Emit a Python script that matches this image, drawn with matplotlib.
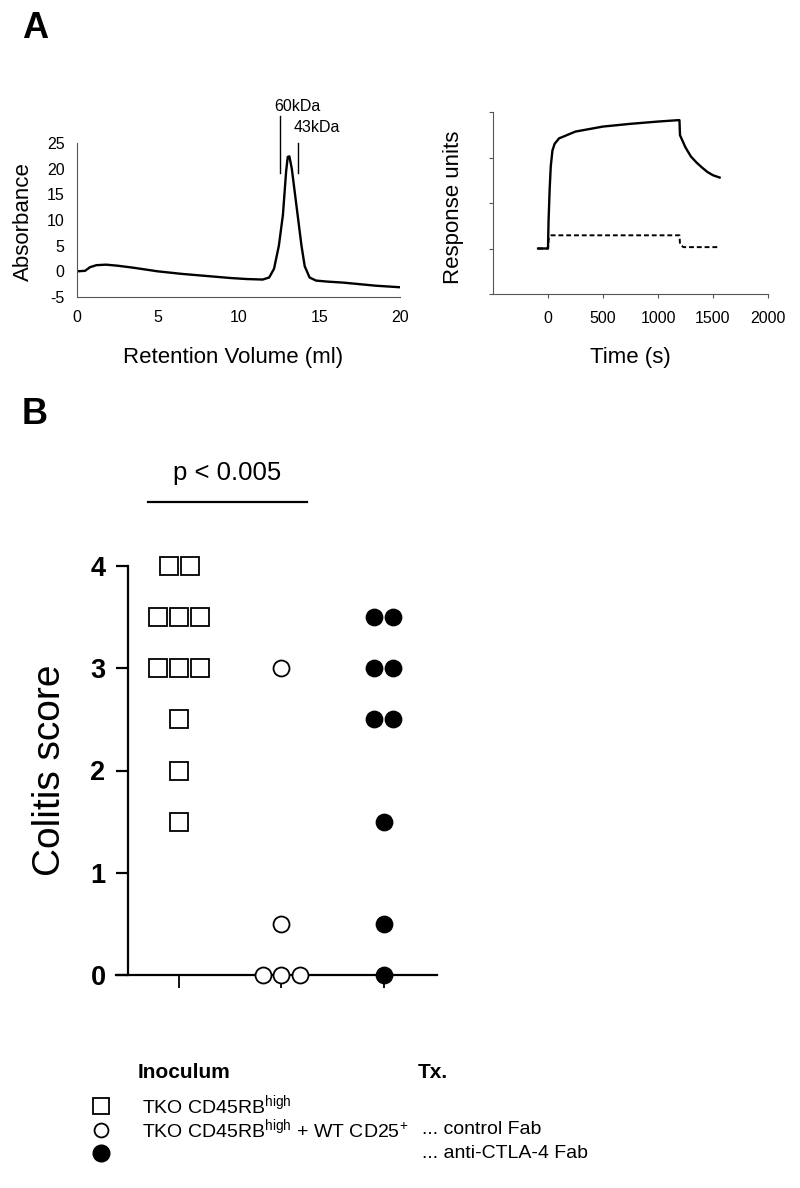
import numpy as np
import matplotlib
matplotlib.use("Agg")
import matplotlib.pyplot as plt
from matplotlib.lines import Line2D

plt.rcParams['font.family'] = ['Liberation Sans', 'DejaVu Sans']
plt.rcParams['mathtext.fontset'] = 'custom'
plt.rcParams['mathtext.rm'] = 'Liberation Sans'
plt.rcParams['axes.unicode_minus'] = False

# --- panel A, gel filtration trace ---
vol_ml = [0, 0.5, 0.8, 1.2, 1.8, 2.5, 3.5, 5, 6.5, 8, 9.5, 10.5, 11.5, 11.9,
          12.2, 12.5, 12.75, 12.95, 13.05, 13.15, 13.3, 13.5, 13.7, 13.9,
          14.1, 14.4, 14.8, 15.5, 16.5, 17.5, 18.5, 20]
absorbance = [0, 0.1, 0.8, 1.2, 1.3, 1.1, 0.7, 0.0, -0.5, -0.9, -1.3, -1.5,
              -1.6, -1.2, 0.5, 5, 11, 19.5, 22.3, 22.4, 20, 15, 10, 5, 1,
              -1.2, -1.8, -2.0, -2.2, -2.5, -2.8, -3.1]
markers_kda = ['60kDa', '43kDa']
marker_vol = [12.6, 13.7]

# --- panel A, surface plasmon resonance ---
t_solid = [-90, 0, 5, 15, 25, 40, 60, 100, 250, 500, 750, 1000, 1180, 1195,
           1200, 1250, 1300, 1350, 1400, 1450, 1500, 1560]
ru_solid = [1.0, 1.0, 1.6, 2.3, 2.8, 3.15, 3.3, 3.42, 3.57, 3.68, 3.74, 3.79,
            3.82, 3.82, 3.49, 3.22, 3.02, 2.89, 2.78, 2.68, 2.61, 2.56]
t_dash = [-90, 0, 5, 30, 1195, 1200, 1230, 1560]
ru_dash = [1.0, 1.0, 1.2, 1.29, 1.29, 1.1, 1.03, 1.03]

# --- panel B, colitis scores ---
sq_scores = [4, 4, 3.5, 3.5, 3.5, 3, 3, 3, 2.5, 2, 1.5]
open_scores = [3, 0.5, 0, 0, 0]
filled_scores = [3.5, 3.5, 3, 3, 2.5, 2.5, 1.5, 0.5, 0]
groups = [1, 2, 3]


def spread(scores, step):
    scores = np.array(scores, dtype=float)
    off = np.zeros_like(scores)
    for v in np.unique(scores):
        idx = np.where(scores == v)[0]
        off[idx] = (np.arange(len(idx)) - (len(idx) - 1) / 2) * step
    return off, scores


W, H = 800, 1188
fig = plt.figure(figsize=(W / 100, H / 100), dpi=100)


def box(x0, y0, x1, y1):
    return [x0 / W, 1 - y1 / H, (x1 - x0) / W, (y1 - y0) / H]


# chromatogram
ax1 = fig.add_axes(box(77, 143, 400, 297))
ax1.plot(vol_ml, absorbance, color='black', lw=1.7)
ax1.set_xlim(0, 20)
ax1.set_ylim(-5, 25)
ax1.set_xticks([0, 5, 10, 15, 20])
ax1.set_yticks(range(-5, 26, 5))
ax1.tick_params(length=0, labelsize=11.5, pad=9)
for s in ['top', 'right']:
    ax1.spines[s].set_visible(False)
for s in ['left', 'bottom']:
    ax1.spines[s].set_color('#555555')
ax1.plot([marker_vol[0]] * 2, [19.2, 30.2], color='black', lw=1, clip_on=False)
ax1.plot([marker_vol[1]] * 2, [19.2, 25], color='black', lw=1, clip_on=False)
ax1.text(12.2, 32.2, markers_kda[0], fontsize=11.5, va='center', ha='left')
ax1.text(13.4, 28.1, markers_kda[1], fontsize=11.5, va='center', ha='left')
fig.text(23 / W, 1 - 222 / H, 'Absorbance', rotation=90, fontsize=16,
         ha='center', va='center')
fig.text(233 / W, 1 - 357 / H, 'Retention Volume (ml)', fontsize=16,
         ha='center', va='center')

# binding curve
ax2 = fig.add_axes(box(493, 112, 768, 294))
ax2.plot(t_solid, ru_solid, color='black', lw=1.7)
ax2.plot(t_dash, ru_dash, color='black', lw=1.4, linestyle=(0, (2.5, 1.5)))
ax2.set_xlim(-500, 2000)
ax2.set_ylim(0, 4)
ax2.set_xticks([0, 500, 1000, 1500, 2000])
ax2.set_yticks([0, 1, 2, 3, 4])
ax2.set_yticklabels([])
ax2.tick_params(direction='out', length=3, width=0.8, labelsize=11.5, pad=9,
                colors='#555555', labelcolor='black')
for s in ['top', 'right']:
    ax2.spines[s].set_visible(False)
for s in ['left', 'bottom']:
    ax2.spines[s].set_color('#555555')
fig.text(453 / W, 1 - 207 / H, 'Response units', rotation=90, fontsize=16,
         ha='center', va='center')
fig.text(630 / W, 1 - 357 / H, 'Time (s)', fontsize=16,
         ha='center', va='center')

# colitis scores
ax3 = fig.add_axes(box(116, 566, 437, 975))
xo, ys = spread(sq_scores, 0.205)
ax3.plot(groups[0] + xo, ys, 's', ms=13, mfc='white', mec='black', mew=1.3,
         clip_on=False, zorder=3)
xo, ys = spread(open_scores, 0.185)
ax3.plot(groups[1] + xo, ys, 'o', ms=11.5, mfc='white', mec='black', mew=1.3,
         clip_on=False, zorder=3)
xo, ys = spread(filled_scores, 0.185)
ax3.plot(groups[2] + xo, ys, 'o', ms=11.5, mfc='black', mec='black', mew=1.3,
         clip_on=False, zorder=3)
ax3.set_xlim(0.383, 3.52)
ax3.set_ylim(0, 4)
ax3.spines['left'].set_position(('data', 0.5))
ax3.spines['left'].set_bounds(0, 4)
for s in ['top', 'right']:
    ax3.spines[s].set_visible(False)
for s in ['left', 'bottom']:
    ax3.spines[s].set_linewidth(1.6)
ax3.set_yticks([0, 1, 2, 3, 4])
ax3.set_xticks(groups)
ax3.set_xticklabels([])
ax3.tick_params(axis='y', length=8.6, width=1.6, pad=7.5, labelsize=19.5)
ax3.tick_params(axis='x', length=9.5, width=1.3)
for lab in ax3.get_yticklabels():
    lab.set_fontweight('bold')
ax3.plot([0.695, 2.246], [4.63, 4.63], color='black', lw=1.6, clip_on=False)
ax3.text(1.47, 4.91, 'p < 0.005', fontsize=18.5, ha='center', va='center')
fig.text(50 / W, 1 - 770 / H, 'Colitis score', rotation=90, fontsize=28,
         ha='center', va='center')

# panel letters
fig.text(22 / W, 1 - 29 / H, 'A', fontsize=26, fontweight='bold', va='center')
fig.text(22 / W, 1 - 414 / H, 'B', fontsize=26, fontweight='bold', va='center')

# legend block
fig.text(138 / W, 1 - 1073 / H, 'Inoculum', fontsize=15, fontweight='bold',
         va='center')
fig.text(418 / W, 1 - 1073 / H, 'Tx.', fontsize=15, fontweight='bold',
         va='center')
rows = [1106, 1130, 1153]
fig.add_artist(Line2D([101 / W], [1 - rows[0] / H], marker='s', ms=12,
                      mfc='white', mec='black', mew=1.3))
fig.add_artist(Line2D([101 / W], [1 - rows[1] / H], marker='o', ms=10,
                      mfc='white', mec='black', mew=1.3))
fig.add_artist(Line2D([101 / W], [1 - rows[2] / H], marker='o', ms=12,
                      mfc='black', mec='black'))
fig.text(142 / W, 1 - rows[0] / H, r'TKO CD45RB$^{\mathrm{high}}$',
         fontsize=14, va='center')
fig.text(142 / W, 1 - rows[1] / H,
         r'TKO CD45RB$^{\mathrm{high}}$ + WT CD25$^{+}$', fontsize=14,
         va='center')
fig.text(422 / W, 1 - rows[1] / H, '... control Fab', fontsize=14, va='center')
fig.text(422 / W, 1 - rows[2] / H, '... anti-CTLA-4 Fab', fontsize=14,
         va='center')

fig.savefig('out.png', dpi=100)
